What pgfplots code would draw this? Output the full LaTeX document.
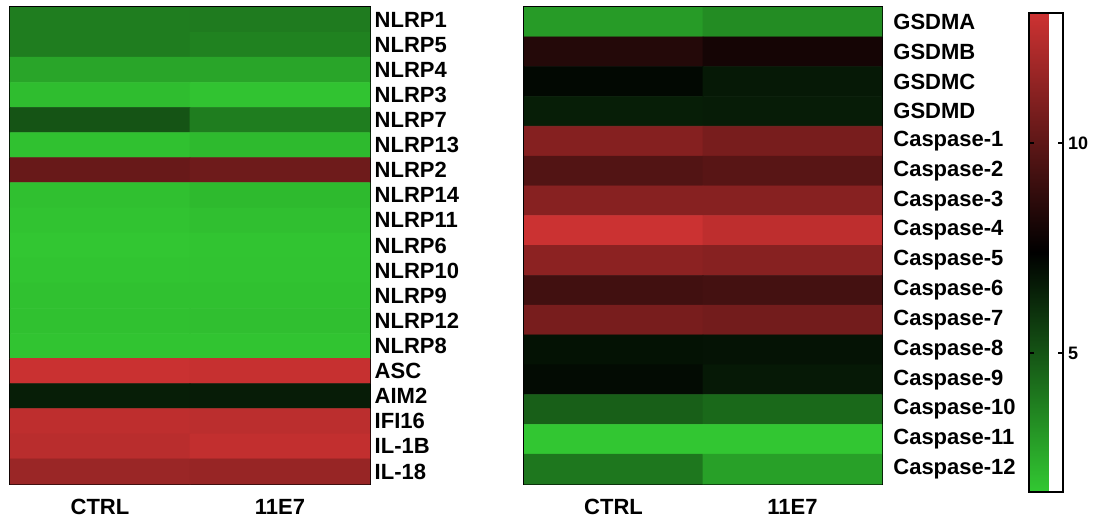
\documentclass[border=0pt]{standalone}
\usepackage{fontspec}
\setmainfont{Liberation Sans}
\usepackage{pgfplots}
\pgfplotsset{compat=1.18}
\usepackage{pgfplotstable}

\pgfplotstableread{
x y z
0 0 3.85
1 0 3.9
0 1 3.85
1 1 3.7
0 2 2.7
1 2 2.7
0 3 2.0
1 3 1.85
0 4 5.0
1 4 3.85
0 5 1.9
1 5 2.1
0 6 10.3
1 6 10.45
0 7 1.93
1 7 2.1
0 8 1.85
1 8 1.95
0 9 1.75
1 9 1.8
0 10 1.8
1 10 1.85
0 11 1.9
1 11 1.9
0 12 1.9
1 12 1.95
0 13 1.8
1 13 1.8
0 14 13.0
1 14 12.9
0 15 6.55
1 15 6.6
0 16 12.7
1 16 12.6
0 17 12.55
1 17 12.8
0 18 11.7
1 18 11.6
}\lefttable

\pgfplotstableread{
x y z
0 0 2.98
1 0 3.4
0 1 8.4
1 1 8.0
0 2 7.17
1 2 6.7
0 3 6.55
1 3 6.6
0 4 11.1
1 4 10.74
0 5 9.68
1 5 9.85
0 6 11.15
1 6 11.15
0 7 13.05
1 7 12.7
0 8 11.3
1 8 11.15
0 9 9.2
1 9 9.3
0 10 10.74
1 10 10.6
0 11 6.9
1 11 6.85
0 12 7.1
1 12 6.7
0 13 4.7
1 13 4.4
0 14 1.75
1 14 1.75
0 15 4.0
1 15 2.85
}\righttable

\pgfplotsset{
  heat/.style={
    scale only axis,
    y dir=reverse,
    xmin=-0.5, xmax=1.5,
    colormap={gbr}{rgb255(0)=(50,200,50) rgb255(1)=(0,0,0) rgb255(2)=(205,50,50)},
    point meta min=1.7, point meta max=13.1,
    tick style={draw=none},
    xtick={0,1}, xticklabels={CTRL,11E7},
    yticklabel pos=right,
    axis line style={line width=1.5pt, black},
    ticklabel style={font=\fontsize{16.5}{19}\selectfont\bfseries},
    xticklabel style={yshift=-8pt},
    yticklabel style={xshift=0pt},
  }
}

\begin{document}
\begin{tikzpicture}
\path[use as bounding box] (-7.5pt,-26.25pt) rectangle (812.25pt,363pt);
\begin{axis}[heat,
  at={(0pt,0pt)}, anchor=south west,
  width=270pt, height=357.75pt,
  ymin=-0.5, ymax=18.5,
  ytick={0,...,18},
  yticklabels={NLRP1,NLRP5,NLRP4,NLRP3,NLRP7,NLRP13,NLRP2,NLRP14,NLRP11,NLRP6,NLRP10,NLRP9,NLRP12,NLRP8,ASC,AIM2,IFI16,IL-1B,IL-18},
]
\addplot[matrix plot*, mesh/cols=2, point meta=explicit] table[x=x, y=y, meta=z] {\lefttable};
\end{axis}
\begin{axis}[heat,
  at={(385.5pt,0pt)}, anchor=south west,
  width=268.5pt, height=357.75pt,
  ymin=-0.5, ymax=15.5,
  ytick={0,...,15},
  yticklabels={GSDMA,GSDMB,GSDMC,GSDMD,Caspase-1,Caspase-2,Caspase-3,Caspase-4,Caspase-5,Caspase-6,Caspase-7,Caspase-8,Caspase-9,Caspase-10,Caspase-11,Caspase-12},
  yticklabel style={xshift=5pt},
  colorbar,
  colorbar style={
    at={(parent axis.north east)}, anchor=north west,
    xshift=102pt, yshift=-4.5pt,
    scale only axis,
    width=25.5pt, height=359pt,
    ytick={5,10},
    ytick pos=both,
    yticklabel pos=right,
    tick align=inside,
    major tick length=3.75pt,
    tick style={draw=black, line width=1.2pt},
    axis line style={line width=1.5pt, black},
    yticklabel style={font=\fontsize{13.5}{16}\selectfont\bfseries, xshift=0pt},
    /pgf/number format/assume math mode=true,
  },
]
\addplot[matrix plot*, mesh/cols=2, point meta=explicit] table[x=x, y=y, meta=z] {\righttable};
\end{axis}
\end{tikzpicture}
\end{document}
